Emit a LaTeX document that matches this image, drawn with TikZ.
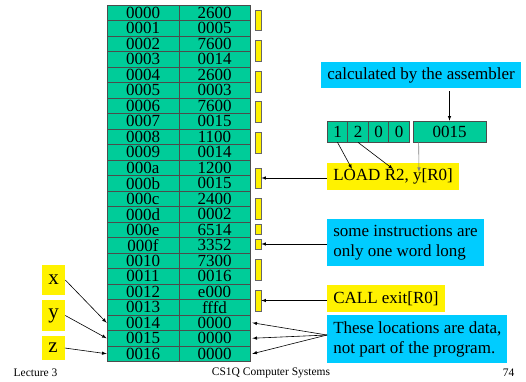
\documentclass[tikz,border=0pt]{standalone}
\usepackage{fontspec}
\setmainfont{Liberation Serif}
\definecolor{memgreen}{RGB}{0,204,153}
\definecolor{noteblue}{RGB}{0,204,255}
\tikzset{
  cell/.style={draw=black!70, line width=0.7pt, fill=memgreen, minimum height=15.5pt, inner sep=0pt, font=\fontsize{17}{17}\selectfont},
  bar/.style={draw=black!60, line width=0.6pt, fill=yellow, minimum width=6pt, inner sep=0pt},
  note/.style={fill=noteblue, anchor=west, align=left, inner xsep=6pt, inner ysep=0pt, font=\fontsize{17}{20}\selectfont},
  tag/.style={fill=yellow, anchor=west, inner xsep=6pt, inner ysep=0pt, font=\fontsize{17}{20}\selectfont},
  var/.style={fill=yellow, minimum width=23pt, inner sep=0pt, font=\fontsize{21}{21}\selectfont},
}
\begin{document}
\begin{tikzpicture}[x=1pt, y=-1pt, >=latex, line width=0.6pt]
  \useasboundingbox (0,0) rectangle (526,381);

  % メモリの表
  \foreach \a/\v [count=\i from 0] in {0000/2600, 0001/0005, 0002/7600, 0003/0014,
      0004/2600, 0005/0003, 0006/7600, 0007/0015, 0008/1100, 0009/0014,
      000a/1200, 000b/0015, 000c/2400, 000d/0002, 000e/6514, 000f/3352,
      0010/7300, 0011/0016, 0012/e000, 0013/fffd, 0014/0000, 0015/0000, 0016/0000} {
    \node[cell, minimum width=72pt] (addr\i) at (143, 12.75+15.5*\i) {\a};
    \node[cell, minimum width=71pt] (val\i) at (214.5, 12.75+15.5*\i) {\v};
  }

  % 命令ごとの印
  \foreach \c/\h [count=\n] in {20/20, 50.5/21, 81.5/21, 111.5/21, 142.5/21, 178/20,
      208.5/21, 229/10, 244/10, 269.5/21, 300.5/21}
    \node[bar, minimum height=\h pt] (bar\n) at (258, \c) {};

  % 説明
  \node[note, minimum height=26pt] (calc) at (321, 75) {calculated by the assembler};
  \foreach \d [count=\k] in {1,2,0,0}
    \node[cell, minimum width=20.5pt, minimum height=21pt] (d\k) at (317+20.5*\k, 131.5) {\d};
  \node[cell, minimum width=73pt, minimum height=21pt] (word) at (449.5, 131.5) {0015};
  \node[tag, minimum height=27pt] (load) at (327, 176.5) {LOAD R2, y[R0]};
  \node[note, minimum height=47pt] (once) at (327, 242.5) {some instructions are\\only one word long};
  \node[tag, minimum height=27pt] (call) at (327, 298.5) {CALL exit[R0]};
  \node[note, minimum height=48pt] (data) at (327, 339) {These locations are data,\\not part of the program.};

  % 変数
  \node[var, minimum height=30pt] (labx) at (53.5, 280) {x};
  \node[var, minimum height=31pt] (laby) at (53.5, 315.5) {y};
  \node[var, minimum height=24pt] (labz) at (53, 348) {z};

  % 矢印
  \coordinate (ldA) at (352, 169);
  \coordinate (ldB) at (393, 169);
  \coordinate (ldC) at (419, 172);
  \draw[->, shorten <=3pt] (calc.south -| word.north) -- (word.north);
  \draw[->] (d1.south) -- (ldA);
  \draw[->] (d2.south) -- (ldB);
  \draw[->, gray] ([xshift=6pt]word.south west) -- (ldC);
  \draw[->] (load.west |- bar6.east) -- (bar6.east);
  \draw[->] (once.west |- bar9.east) -- (bar9.east);
  \draw[->] (call.west |- bar11.east) -- (bar11.east);
  \coordinate (fan) at ([yshift=4pt]data.west);
  \foreach \r in {20,21,22}
    \draw[->] (fan) -- ([xshift=2pt]val\r.east);
  \draw[->] (labx.east) -- (addr20.west);
  \draw[->] (laby.east) -- (addr21.west);
  \draw[->] (labz.east) -- (addr22.west);

  % フッター
  \node[anchor=west, font=\fontsize{11.5}{12}\selectfont] (lect) at (10, 373) {Lecture 3};
  \node[font=\fontsize{11.5}{12}\selectfont] (course) at (271, 373) {CS1Q Computer Systems};
  \node[anchor=east, font=\fontsize{11.5}{12}\selectfont] (page) at (518, 373) {74};
\end{tikzpicture}
\end{document}
